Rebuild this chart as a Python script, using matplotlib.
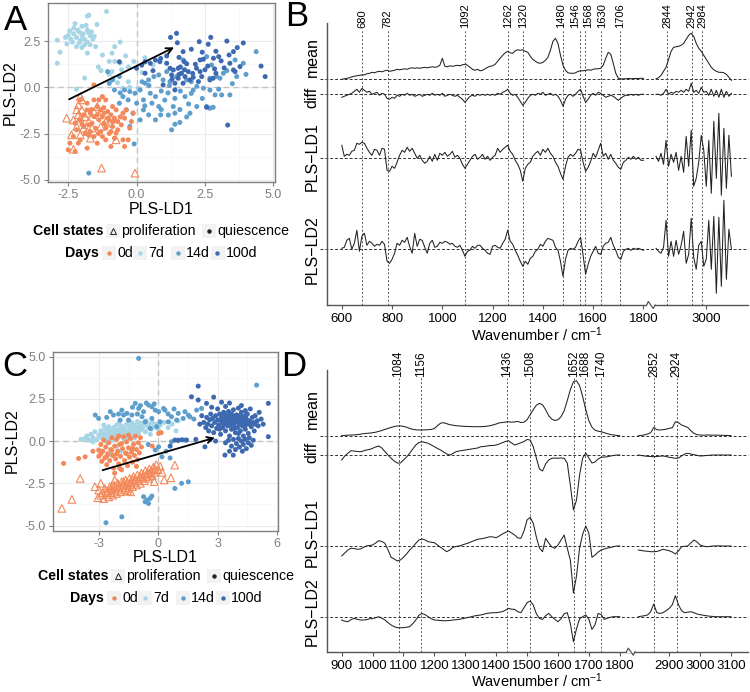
import numpy as np
import matplotlib
matplotlib.use("Agg")
import matplotlib.pyplot as plt
from matplotlib.lines import Line2D
from matplotlib.patches import Rectangle

plt.rcParams['font.family'] = ['Liberation Sans', 'DejaVu Sans']
plt.rcParams['mathtext.default'] = 'regular'

W, H = 750, 692

# ---------------- colours ----------------
c_0d = '#f3895a'
c_7d = '#a7d5e6'
c_14d = '#5e9ecd'
c_100d = '#3d69b1'

# ---------------- panel A scatter (PLS-LD1, PLS-LD2) ----------------
a_7d = [(-2.3,2.9),(-2.2,2.7),(-2.1,3.0),(-2.0,2.8),(-1.9,2.6),(-2.4,2.6),(-2.5,2.8),(-2.3,3.2),(-2.0,3.3),
        (-1.8,3.1),(-1.7,2.8),(-1.6,2.6),(-1.9,2.3),(-2.1,2.4),(-2.2,2.2),(-1.75,2.95),(-1.85,3.35),(-2.15,3.1),
        (-2.45,3.05),(-1.65,3.0),(-1.55,2.75),(-1.95,2.9),(-2.05,2.55),(-2.35,2.45),(-1.8,2.45),(-1.7,2.3),
        (-2.6,2.7),(-2.55,2.35),(-2.25,3.45),(-1.45,3.4),(-1.8,3.85),(-1.75,3.9),(-1.1,4.1),(-2.0,2.15),(-1.5,2.2),
        (-2.9,2.55),(-2.8,1.9),(-2.9,1.3),(-1.8,1.85),(-1.25,1.75),(-0.9,1.85),(-0.8,2.2),(-0.6,2.45),(-1.0,1.4),
        (-0.8,1.4),(-0.6,1.3),(-0.9,0.85),(-0.55,0.95),(-0.3,1.1),(-1.0,0.7),(-1.9,0.5),(-2.2,-0.1),(-0.85,0.5),
        (-0.7,0.25),(-0.5,-0.05),(-0.25,0.0),(0.05,-0.05),(-0.3,0.3),(-1.3,0.9),(-0.1,1.4),(0.3,1.6),(0.2,0.8),
        (-0.4,1.7),(-1.4,1.1),(0.6,1.2)]
a_14d = [(1.03,-0.69),(1.40,-0.60),(1.77,-0.5),(1.34,-1.04),(1.16,-1.5),(1.40,-1.4),(1.58,-1.2),(1.28,-2.3),
         (1.40,-2.0),(1.58,-1.9),(1.83,-1.6),(1.95,-1.4),(2.07,-0.15),(2.0,-0.33),(2.2,-1.04),(2.56,-1.04),
         (2.68,-1.13),(2.8,-1.08),(2.44,-0.05),(2.68,-0.15),(3.11,-0.41),(3.41,-0.41),(2.87,-0.41),(3.05,0.49),
         (3.17,0.76),(3.66,0.58),(3.9,1.3),(3.6,1.48),(2.56,1.66),(2.74,1.21),(1.7,1.48),(1.1,0.85),(0.97,0.4),
         (1.22,0.31),(1.46,0.58),(1.83,0.4),(2.0,0.31),(2.68,0.49),(2.93,0.58),(4.37,1.93),
         (-1.06,0.85),(-0.88,0.4),(-0.63,0.58),(-0.44,-0.14),(-0.25,-0.23),(-0.06,-0.32),(0.13,-0.14),(0.31,0.22),
         (0.44,0.4),(0.63,0.58),(0.81,0.67),(0.5,-0.32),(0.69,-0.5),(0.25,-0.68),(0.0,-0.86),(-0.31,-0.68),
         (-0.5,-0.5),(-0.63,-0.86),(-0.38,-1.22),(-0.13,-1.4),(0.25,-1.22),(0.44,-1.49),(0.69,-1.76),(0.88,-1.49),
         (0.81,-1.04),(0.56,-0.86),(0.13,-1.76),(-0.25,-2.12),(-0.09,-3.06),(-1.75,-4.64),(-0.81,-0.14),(-1.0,0.22),
         (0.2,0.3),(0.45,0.1),(0.9,-0.2),(1.15,-0.3),(1.6,-0.2),(1.9,-0.9),(2.4,-0.6),(3.0,-0.1),(3.5,0.2),
         (2.2,0.05),(0.3,-1.0),(0.9,-1.2),(-0.6,-0.3),(1.2,0.1),(3.3,0.9),(4.0,0.7)]
a_100d = [(0.0,1.03),(0.19,1.2),(0.31,1.38),(0.5,1.3),(0.69,1.47),(0.88,1.56),(-0.63,1.38),(0.31,0.76),
          (1.24,2.7),(1.46,2.92),(1.49,2.41),(1.7,1.93),(2.0,2.06),(2.29,2.47),(2.62,2.33),(2.71,2.7),(3.68,2.15),
          (3.54,1.93),(3.38,1.75),(3.09,1.43),(3.0,1.66),(2.81,1.57),(2.44,1.52),(2.32,1.48),(1.55,1.62),
          (1.74,1.39),(1.83,1.27),(1.22,1.03),(1.34,0.94),(1.52,1.03),(1.64,0.76),(1.89,0.85),(2.19,1.03),
          (2.32,0.85),(2.38,0.58),(2.07,0.54),(1.95,0.4),(1.77,0.58),(1.52,0.49),(1.40,0.22),(1.28,0.67),
          (2.68,0.4),(2.9,0.76),(3.54,0.94),(3.6,0.85),(4.55,1.15),(4.7,0.58),(2.56,-1.08),(3.33,-2.04),
          (1.40,-0.14),(0.97,0.13),(0.85,1.39),(1.1,1.3),(3.41,1.3),(3.78,1.12),(1.7,0.22),(2.26,0.31),(2.8,0.49),
          (1.6,1.1),(1.75,0.95),(2.05,0.75),(2.15,1.25),(2.5,0.95),(2.6,1.15),(2.85,1.0),(3.2,1.05),(1.3,0.45),
          (1.55,0.7),(2.4,1.9),(3.3,2.5),(1.1,1.7),(0.6,0.9),(3.9,2.4),(2.9,1.95)]
a_0d_q = [(-1.56,0.13),(-1.25,-0.5),(-1.13,-0.68),(-1.44,-1.04),(-1.31,-1.22),(-1.19,-1.4),(-1.06,-1.31),
          (-0.94,-1.49),(-0.81,-1.67),(-0.69,-1.85),(-1.0,-1.76),(-1.19,-1.94),(-1.38,-1.76),(-1.56,-1.58),
          (-1.69,-1.4),(-1.81,-1.22),(-1.94,-1.49),(-2.06,-1.76),(-1.75,-2.03),(-1.5,-2.21),(-1.31,-2.39),
          (-1.13,-2.21),(-0.88,-2.12),(-0.69,-2.3),(-0.56,-2.03),(-0.44,-1.67),(-0.5,-1.4),(-0.38,-1.22),
          (-0.75,-1.22),(-0.88,-1.04),(-2.19,-2.3),(-2.31,-2.66),(-2.44,-3.02),(-2.5,-3.38),(-2.13,-3.02),
          (-1.81,-3.29),(-1.44,-3.02),(-1.13,-2.84),(-0.81,-2.75),(-0.5,-2.84),(-0.94,-3.2),(-1.56,-2.66),
          (-1.88,-2.48),(-2.06,-2.84),(-2.25,-3.47),(-0.13,-1.4),(-0.19,-1.85),(-0.25,-2.21),(-0.31,-2.84),
          (-1.63,-1.94),(-1.25,-1.58),(-1.06,-1.67),(-1.44,-1.49),(-0.94,-2.39),(-1.69,-2.39),(-1.94,-2.12),
          (-2.25,-1.94),(-1.56,-0.68),(-1.81,-0.86),(-1.38,-0.68),(-2.06,-0.68),(-0.44,-3.2),(-1.25,-2.66),
          (-0.75,-2.48),(-1.2,-1.1),(-1.0,-2.5),(-1.65,-1.2),(-0.6,-1.6),(-2.0,-2.0),(-1.4,-2.5),(-0.85,-1.85),
          (-1.75,-2.6)]
a_0d_p = [(-2.06,-0.5),(-2.0,-0.68),(-2.13,-0.95),(-2.0,-1.22),(-2.19,-1.22),(-2.56,-1.67),(-2.31,-1.76),
          (-2.06,-1.67),(-1.88,-1.58),(-1.75,-1.85),(-2.19,-2.12),(-2.38,-2.57),(-2.31,-3.35),(-1.94,-2.21),
          (-1.81,-2.39),(-1.63,-2.21),(-1.44,-1.04),(-1.38,-1.49),(-1.56,-1.31),(-1.13,-1.85),(-1.31,-2.12),
          (-1.0,-1.94),(-0.75,-2.84),(-1.69,-2.75),(-2.06,-2.57),(-1.28,-4.37),(-0.06,-4.64),(-1.81,-1.4),
          (-2.13,-1.49)]
a_arrow = [(-2.47, -0.65), (1.37, 2.16)]

# ---------------- panel C scatter ----------------
c_7d_pts = [(-3.9,0.1),(-3.7,0.15),(-3.6,0.3),(-3.5,0.05),(-3.4,0.4),(-3.3,0.2),(-3.2,0.55),(-3.1,0.1),(-3.0,0.35),
            (-2.9,0.6),(-2.85,0.2),(-2.8,0.45),(-2.7,0.75),(-2.65,0.3),(-2.6,0.55),(-2.55,0.1),(-2.5,0.85),
            (-2.45,0.4),(-2.4,0.65),(-2.35,0.25),(-2.3,0.5),(-2.25,0.8),(-2.2,0.35),(-2.15,0.6),(-2.1,0.95),
            (-2.05,0.2),(-2.0,0.45),(-1.95,0.7),(-1.9,0.3),(-1.85,0.9),(-1.8,0.55),(-1.75,0.15),(-1.7,0.75),
            (-1.65,0.4),(-1.6,1.0),(-1.55,0.6),(-1.5,0.3),(-1.45,0.85),(-1.4,0.5),(-1.35,1.1),(-1.3,0.7),
            (-1.25,0.35),(-1.2,0.95),(-1.15,0.6),(-1.1,0.8),(-1.05,1.15),(-1.0,0.45),(-0.95,0.9),(-0.9,0.65),
            (-0.85,1.05),(-0.8,0.75),(-0.7,0.95),(-0.65,0.55),(-0.6,1.2),(-0.5,0.8),(-0.45,1.0),(-0.35,0.7),
            (-0.3,1.1),(-0.2,0.85),(-0.1,1.0),(0.0,0.7),(0.1,0.95),(0.3,1.1),(0.5,0.8),(0.7,1.0),(0.9,0.6),
            (1.0,1.2),(-2.75,0.95),(-2.0,1.05),(-3.3,-0.05),(-2.6,-0.05),(-1.6,0.15),(-2.3,0.05),(-1.2,0.2),
            (-0.4,0.4),(-1.9,-0.6),(-2.4,-0.8),(-2.1,-0.3),(-2.9,0.4),(-2.45,0.55),(-2.05,0.65),(-1.7,0.5),
            (-1.35,0.8),(-1.0,0.8),(-2.6,0.7),(-1.8,0.35)]
c_14d_pts = [(-3.18,1.54),(-3.01,1.34),(-2.42,1.74),(-2.26,1.54),(-1.84,1.83),(-1.58,1.64),(-1.16,2.23),
             (-0.99,1.93),(-0.74,1.74),(-0.49,2.13),(-0.32,2.03),(-0.15,1.83),(0.02,1.74),(0.27,1.93),
             (-0.32,1.34),(-0.66,1.14),(-0.82,1.44),(-1.5,1.24),(-1.92,1.24),(-1.33,1.54),(-1.75,1.54),
             (0.1,1.14),(-0.07,0.85),(-0.4,0.75),(0.34,1.83),(0.67,1.44),(1.01,1.64),(1.35,1.74),(1.6,1.44),
             (1.94,1.83),(2.19,1.93),(0.51,1.14),(0.93,1.24),(1.26,1.34),(1.52,1.54),(-0.9,2.1),(-0.6,2.25),
             (-0.2,2.2),(-1.3,2.0),(-2.0,1.6),(-2.6,1.4),(-1.05,1.6),(0.5,1.6),(0.8,1.9),(1.8,1.3),
             (-0.15,-0.53),(0.19,-0.93),(0.02,-0.34),(1.01,0.06),(1.35,0.06),(0.67,-0.04),(0.4,-0.6),
             (0.6,-1.0),(-0.5,-0.2),(-0.74,-3.29),(-0.57,-3.49),(-0.4,-3.39),(-0.49,-3.69),(-0.66,-3.59),
             (-0.32,-3.25),(0.84,-2.8),(1.18,-2.5),(1.52,-2.41),(-0.99,4.89),(-2.64,-4.83),(-1.84,-4.48),
             (4.97,3.31)]
c_100d_pts = [(2.3,1.1),(2.4,0.8),(2.45,1.4),(2.5,1.0),(2.55,0.6),(2.6,1.25),(2.65,1.6),(2.7,0.9),(2.75,1.35),
              (2.8,0.5),(2.85,1.1),(2.9,1.5),(2.95,0.75),(3.0,1.25),(3.0,1.9),(3.05,0.95),(3.1,1.6),(3.15,0.4),
              (3.2,1.15),(3.2,1.4),(3.25,0.8),(3.3,1.7),(3.3,1.0),(3.35,1.3),(3.4,0.6),(3.4,2.05),(3.45,1.5),
              (3.5,0.9),(3.5,1.2),(3.55,1.75),(3.6,0.3),(3.6,1.05),(3.65,1.4),(3.7,0.7),(3.7,1.6),(3.75,1.2),
              (3.8,0.95),(3.8,1.85),(3.85,1.35),(3.9,0.5),(3.9,1.1),(3.95,1.55),(4.0,0.8),(4.0,1.3),(4.05,1.95),
              (4.1,1.0),(4.1,1.5),(4.15,0.6),(4.2,1.25),(4.2,1.7),(4.25,0.9),(4.3,1.45),(4.3,0.3),(4.35,1.1),
              (4.4,1.8),(4.4,0.7),(4.45,1.3),(4.5,1.0),(4.5,1.6),(4.55,0.45),(4.6,1.2),(4.65,1.9),(4.7,0.85),
              (4.75,1.4),(4.8,1.1),(4.85,0.6),(4.9,1.5),(5.0,1.2),(5.05,0.9),(5.1,1.7),(5.2,1.3),(5.3,1.0),
              (5.56,2.23),(5.56,0.26),(3.4,-0.1),(3.55,0.05),(3.7,-0.3),(3.8,0.1),(3.9,-0.5),(3.95,-0.15),
              (4.05,0.15),(4.1,-0.35),(4.2,0.0),(4.25,-0.6),(4.3,-0.2),(4.4,0.1),(4.45,-0.45),(4.55,-0.1),
              (4.6,0.2),(4.7,-0.25),(4.8,0.05),(3.37,-0.83),(3.79,-0.83),(3.6,-0.6),(2.36,-0.34),(2.9,0.0),
              (2.6,0.1),(1.68,2.62),(2.02,2.43),(2.44,2.23),(2.02,3.25),(0.84,0.06),(1.0,0.04),(1.2,0.08),
              (1.43,0.06),(2.7,2.0),(2.2,1.5),(2.1,1.0),(1.9,0.1),(0.6,-0.3),(3.2,2.3),(3.6,2.25),(4.2,2.1),
              (2.8,2.6),(3.1,0.7),(3.35,1.6),(3.65,0.95),(3.95,1.25),(4.15,1.15),(4.35,0.85),(4.45,1.55),
              (4.05,0.45),(3.75,1.45),(3.45,1.1),(4.6,1.0),(4.9,1.0),(3.25,1.25),(3.85,0.75),(4.25,1.4),
              (3.55,1.45)]
c_0d_q = [(-4.78,-1.32),(-4.02,-1.03),(-3.69,-0.93),(-3.01,-0.53),(-3.0,-0.9),(-2.9,-0.2),(-2.85,-1.2),
          (-2.8,-0.6),(-2.75,0.05),(-2.7,-1.0),(-2.65,-0.35),(-2.6,-1.4),(-2.55,-0.75),(-2.5,-0.1),(-2.45,-1.15),
          (-2.4,-0.5),(-2.35,0.2),(-2.3,-0.85),(-2.25,-1.6),(-2.2,-0.3),(-2.15,-1.05),(-2.1,0.1),(-2.05,-0.6),
          (-2.0,-1.35),(-1.95,-0.2),(-1.9,-0.9),(-1.85,-1.7),(-1.8,-0.45),(-1.75,0.25),(-1.7,-1.15),(-1.65,-0.7),
          (-1.6,-0.05),(-1.55,-1.45),(-1.5,-0.4),(-1.45,-0.95),(-1.4,0.15),(-1.35,-0.65),(-1.3,-1.25),
          (-1.25,-0.2),(-1.2,-0.85),(-1.15,0.3),(-1.1,-0.5),(-1.05,-1.1),(-1.0,-0.1),(-0.95,-0.7),(-0.9,0.2),
          (-0.85,-0.35),(-2.2,-1.9),(-1.95,-1.6),(-2.6,-0.9),(-2.1,-0.75),(-1.85,-0.15),(-1.6,-0.75),
          (-2.35,-0.55),(-1.3,-0.45),(-2.9,-0.75),(-3.3,-0.6),(0.02,0.45),(0.15,0.5),(-0.3,-0.3),(-2.0,0.3),
          (-1.5,0.35),(-1.1,-1.5)]
c_0d_p = [(-3.05,-3.35),(-3.0,-2.9),(-2.9,-3.2),(-2.8,-3.05),(-2.75,-3.4),(-2.7,-2.8),(-2.6,-3.15),(-2.55,-2.95),
          (-2.5,-3.3),(-2.45,-2.7),(-2.4,-3.05),(-2.35,-2.85),(-2.3,-3.2),(-2.25,-2.6),(-2.2,-2.95),(-2.15,-2.75),
          (-2.1,-3.1),(-2.05,-2.5),(-2.0,-2.85),(-1.95,-2.65),(-1.9,-3.0),(-1.85,-2.4),(-1.8,-2.75),(-1.75,-2.55),
          (-1.7,-2.9),(-1.65,-2.3),(-1.6,-2.65),(-1.55,-2.45),(-1.5,-2.8),(-1.45,-2.2),(-1.4,-2.55),(-1.35,-2.35),
          (-1.3,-2.7),(-1.25,-2.1),(-1.2,-2.45),(-1.15,-2.25),(-1.1,-2.6),(-1.05,-2.0),(-1.0,-2.35),(-0.95,-2.15),
          (-0.9,-2.5),(-0.85,-1.9),(-0.8,-2.2),(-0.75,-2.0),(-0.7,-2.35),(-0.65,-1.75),(-0.6,-2.1),(-0.55,-1.85),
          (-0.5,-2.2),(-0.45,-1.65),(-0.4,-1.95),(-0.35,-1.75),(-0.3,-2.05),(-0.25,-1.55),(-0.2,-1.85),
          (-0.15,-1.65),(-0.1,-1.4),(0.0,-1.7),(0.1,-1.5),(0.2,-1.85),(-4.87,-3.98),(-4.36,-3.45),(-3.94,-2.21),
          (0.84,-1.42),(0.64,-2.17),(-3.2,-2.7),(-2.9,-2.5),(0.3,-2.3),(-0.2,-2.4),(-2.2,-2.3),(-1.4,-3.0),
          (-2.65,-2.95),(-2.2,-2.65),(-1.75,-2.4),(-1.3,-2.25),(-0.9,-2.1),(-0.5,-1.9),(-2.4,-2.8),(-1.55,-2.95)]
c_arrow = [(-2.81, -1.72), (2.86, 0.2)]

# ---------------- panel B spectra ----------------
wn_b_lo = np.arange(600, 1801, 10)
wn_hi = np.arange(2800, 3101, 10)
b_peaks = [680, 782, 1092, 1262, 1320, 1480, 1546, 1568, 1630, 1706, 2844, 2942, 2984]
b_label_shift = {1480: -6, 1546: -16, 1568: 12, 1630: 6}
b_mean_lo = [0, 0.5, 1, 1.5, 2.5, 3, 3.5, 4, 4.3, 4.5,
             5.5, 6, 7, 6.5, 7.5, 8, 7.5, 8.5, 9, 8,
             8.5, 9, 10, 9.5, 10, 10.5, 10, 11, 11.5, 11,
             11.5, 11, 11.5, 12, 11.5, 12, 12.5, 12, 12.5, 14,
             21, 13, 12.5, 13.5, 13, 13.5, 14, 13.5, 14.5, 15,
             14, 12, 10, 9, 10, 8.5, 9, 10.5, 12, 13,
             13.5, 15, 18, 21, 24, 26.5, 28, 26.5, 26, 28.5,
             29.5, 29, 29.5, 28, 27, 23, 20, 18, 16.5, 16,
             17, 19, 22, 29, 38, 41, 36, 24, 14, 9,
             6.5, 6, 6, 6.5, 8, 8.5, 8.5, 9, 9.5, 9,
             10, 10.5, 10.5, 11, 14, 21, 27, 25, 16, 6,
             1, 0.3, 0.5, 0.5, 0.8, 0.6, 0.7, 0.8, 0.8, 1,
             1]
b_mean_hi = [0.5, 1.5, 4, 8, 12, 20, 28, 32, 32.5, 33, 34, 36, 40, 44, 46, 43, 36, 31, 28, 24,
             20, 16, 12, 9.5, 8, 7, 7, 6.5, 5, 2, -1]
b_diff_lo = [-3, -2, -1, 0, 1, 3, 5, 2, 6, 4,
             2, 3, 0, 1, 2, -1, 1, 0, -4, -5,
             -3, -4, -1, -2, 0, -1, 1, -1, 0, -2,
             -1, 0, -2, -1, 0, -1, 1, -1, 0, -1,
             1, -2, -1, 0, -1, -2, -1, -3, -5, -8,
             -5, -2, -1, -2, 0, -1, 0, -1, 0, -1,
             0, -1, 1, 0, 2, 3, 5, 1, -1, 0,
             -3, -7, -11, -8, -4, -1, 0, -1, 1, 0,
             2, -1, 0, 1, -1, 0, -2, -6, -12, -5,
             -1, 0, -2, 0, 3, 5, -2, -8, -5, -1,
             1, -1, 2, 1, -1, -3, -2, -1, -2, -4,
             -6, -4, -2, -1, -1, 0, -1, 0, -1, 0,
             0]
b_diff_hi = [0, 0, -1, 1, 5, 0, 2, 1, 3, 2, 4, 2, 5, 3, 11, 2, 4, 1, 7, 2,
             3, -1, 5, -2, 4, -3, 5, -3, 3, -2, 1]
b_ld1_lo = [13, 2, 4, 3, 7, 8, 15, 14, 16, 15,
            10, 6, 3, 9, 8, 3, 10, 9, -12, -13,
            -8, -10, -4, 3, 8, 6, 11, 7, 10, 5,
            0, 3, -2, -5, -3, 2, -3, 4, -2, 5,
            3, 6, 2, 4, 7, 1, 3, 0, -6, -10,
            -6, -2, 2, 4, -1, 1, 4, -1, 2, -2,
            1, 3, 10, 6, 9, 11, 13, 7, 4, -2,
            -6, -12, -23, -10, -6, -4, 2, 5, 7, 3,
            9, 6, 10, 5, 2, -4, -8, -15, -21, -8,
            1, 4, 2, 5, 9, 8, -4, -13, -9, -3,
            5, 1, 8, 15, 2, 5, -1, 4, -2, -5,
            -9, -11, -4, -2, 1, -1, 2, -1, 1, -2,
            -2]
b_ld1_hi = [2, -3, 5, -6, 18, -8, 4, -4, 6, -12, 2, -14, 22, -8, 28, -28, -20, -4, 23,
            8, -28, 18, -35, 37, -20, 45, -37, 30, -30, 23, -18]
b_ld2_lo = [1, 2, 9, 11, 0, 6, 19, -2, 13, 16,
            4, 8, 6, 3, 5, 4, 8, 5, -12, -14,
            -10, -4, 6, 4, 9, 7, 12, 3, -4, 16,
            3, 10, 9, 2, -4, 6, 9, 2, 3, 7,
            6, 8, 7, 5, 6, 3, 2, 4, -1, -7,
            -2, -1, 3, 1, 4, 4, 1, -1, -4, -5,
            3, 4, 2, 1, 6, 10, 19, 8, 5, -1,
            -6, -12, -17, -12, -15, -9, -7, -2, 0, 5,
            3, 8, 11, 10, 9, 2, -1, -12, -27, -10,
            -1, 1, 0, 2, 8, 12, -6, -25, -15, -7,
            -2, 3, -4, -5, 3, 6, 7, 12, 4, -1,
            -8, -10, -2, 0, 1, -1, 1, 0, 1, 0,
            -1]
b_ld2_hi = [1, -2, -4, 2, 29, -7, 8, -7, 9, -5, 4, 18, -14, -5, 31, -8, -20, 4, 8, -17,
            -10, 29, -20, 33, -44, 32, -37, 49, -30, 20, 0]

# ---------------- panel D spectra ----------------
wn_d_lo = np.arange(900, 1801, 10)
d_peaks = [1084, 1156, 1436, 1508, 1652, 1688, 1740, 2852, 2924]
d_mean_lo = [0, 0.3, 0.5, 0.7, 0.8, 1, 1.5, 2, 2.3, 2.6,
             3, 3.5, 4.3, 5.2, 6.3, 7.3, 8.3, 9.2, 9.7, 9.8,
             9.3, 8.5, 7.3, 6.4, 5.9, 5.7, 5.7, 5.8, 6, 6.3,
             7.2, 10, 12.5, 13, 12, 11, 10.5, 10, 9.7, 9.5,
             9.3, 9.2, 9.1, 9, 9, 9, 9.2, 9.5, 10, 10.8,
             11.7, 12.8, 13.2, 13.6, 14, 13.5, 13.8, 14.3, 13.2, 13.5,
             16, 21, 26, 30.5, 32.3, 31, 26, 20, 16.5, 15.2,
             16, 19, 25, 35, 46, 54, 55, 50, 39, 26,
             15, 8.5, 5.5, 4.5, 4, 3, 2, 1.2, 0.7, 0.3,
             0]
d_mean_hi = [0, 0.3, 0.8, 1.7, 3, 8.3, 6, 5.7, 6, 6.5, 7.3, 8, 14, 13, 10.7, 9.5, 8.3, 5, 2.3, 1,
             0.7, 0.5, 0.6, 0.7, 0.5, 0.6, 0.5, 0.4, 0.3, 0.2, 0]
d_diff_lo = [-5, -1, 1.7, 4.3, 4, 3.5, 3.3, 4, 5, 5.5,
             6.7, 8, 9, 7, 3.3, 0, -3.3, -6, -8, -8,
             -5, -2, 1.7, 6, 10, 12.5, 13.3, 12.5, 11.7, 10,
             8.3, 6.5, 5, 3, 1, 0, 1.5, 3.3, 4, 4.5,
             5, 5.5, 6, 6.5, 7, 8.3, 8.5, 9, 9.5, 9.5,
             10, 11, 12.3, 13.5, 14.3, 12, 10, 11, 12.3, 13.5,
             15.5, 15, 8.3, -3, -14, -16, -9, -5, -3.3, -3,
             -3.3, -3, -3.3, -8, -30, -55, -45, -20, -3, 2,
             -3, -8, -7, -4, -2.3, -2, -1.7, -1, -0.5, 0,
             0]
d_diff_hi = [0, -0.5, -1, -1.3, -1.5, -1.7, -1.5, -1.2, -1, -1.5, -2.3, -2.8, -3.3, -3, -1, 1, 1.7, 1,
             0.3, -0.3, -1, -0.8, -0.5, -0.3, 0, 0, 0, 0, 0, 0, 0]
d_ld1_lo = [-10, -7, -4, -2.3, -2.5, -3.3, -3, -1.5, 0, 0.5,
            1, 3, 5.3, 4.5, 2.7, -4, -11.3, -13, -15, -14,
            -11.3, -8, -4, -1, 2.7, 6, 7, 6, 4.3, 3.8,
            3.3, 1, -1.3, -3.5, -5.7, -4, -1.3, -0.5, 0, 1,
            2, 3, 4.3, 5.5, 6.7, 7.2, 7.7, 8.5, 9.3, 9,
            8.3, 10, 12, 13.5, 15, 13, 11, 8, 7.7, 15,
            26, 28.7, 22.7, 9, -2, -5.7, 7.7, 3, -1, -2.3,
            1, 6, 11, -2, -14, -47, -30, -2, 12, 20,
            12.7, -11.3, -9, -6, -4, -3, -2, -1.5, -0.7, 0,
            0]
d_ld1_hi = [-4, -4.5, -5, -5.3, -5.7, -5.7, -5.5, -4.5, -3.3, -4, -4.7, -6, -8, -5, -0.7, -0.3, 0, 3,
            6, 4, 1, 0, -0.7, -0.5, 0, 0, 0.2, 0, 0, 0, 0]
d_ld2_lo = [-3.3, -4.5, -5, -3, -1.7, -2.5, -3.3, -3.3, -3, -2,
            -2, -1, 0, -1.5, -3.3, -6, -8.3, -10, -11, -11,
            -11, -10.5, -10, -7, -3.3, 1.5, 3.3, 2, 0, -2,
            -3.3, -3.5, -3.8, -4, -4, -3.7, -3.3, -3, -2.7, -2,
            -1.3, -0.7, 0, 0.8, 1.3, 1.7, 2.5, 3.3, 3.7, 4,
            4, 4.5, 5, 6.5, 8.3, 7.5, 7.3, 5, 4, 9,
            14, 15.7, 11.7, 3, -1.7, -2.7, 1, 3.3, 0, -2.7,
            -5, -2, 3, 4, -6.7, -25, -12, -2, 0, 1.7,
            -2.7, -12.7, -8, 3.3, 2, -2.7, -1.5, -0.5, 0, 0,
            0]
d_ld2_hi = [0, 0.5, 1, 1.7, 5, 12.7, 4, 3.3, 4, 6, 8.3, 12, 21, 12, 6, 4, 4.5, 5, 4, 2.7,
            2, 1.5, 1, 0.5, 0.3, 0, 0, 0, 0, 0, 0]

fig = plt.figure(figsize=(W / 100, H / 100), dpi=100)


def pax(x0, y0, x1, y1):
    return fig.add_axes([x0 / W, 1 - y1 / H, (x1 - x0) / W, (y1 - y0) / H])


def ftext(px, py, s, **kw):
    return fig.text(px / W, 1 - py / H, s, **kw)


def scatter_panel(ax, xlim, ylim, xticks, yticks, xtl, ytl):
    ax.set_xlim(*xlim)
    ax.set_ylim(*ylim)
    ax.set_xticks(xticks)
    ax.set_xticklabels(xtl)
    ax.set_yticks(yticks)
    ax.set_yticklabels(ytl)
    mx = [(xticks[i] + xticks[i + 1]) / 2 for i in range(len(xticks) - 1)]
    my = [(yticks[i] + yticks[i + 1]) / 2 for i in range(len(yticks) - 1)]
    ax.set_xticks(mx, minor=True)
    ax.set_yticks(my, minor=True)
    ax.grid(True, which='major', color='#ebebeb', lw=0.8, zorder=0)
    ax.grid(True, which='minor', color='#f5f5f5', lw=0.5, zorder=0)
    ax.set_axisbelow(True)
    ax.tick_params(which='major', length=3, width=0.8, color='#7f7f7f', labelcolor='#7f7f7f',
                   labelsize=9, pad=2)
    ax.tick_params(which='minor', length=0)
    for s in ax.spines.values():
        s.set_color('#808080')
        s.set_linewidth(1.0)
    ax.axhline(0, color='#c4c4c4', lw=1.0, ls=(0, (4, 3)), zorder=1)
    ax.axvline(0, color='#c4c4c4', lw=1.0, ls=(0, (4, 3)), zorder=1)


def draw_groups(ax, g7, g14, g100, gq, gp, arrow):
    for pts, col in [(g7, c_7d), (g14, c_14d), (g100, c_100d), (gq, c_0d)]:
        p = np.array(pts)
        ax.scatter(p[:, 0], p[:, 1], s=13, color=col, edgecolors='none', zorder=3)
    p = np.array(gp)
    ax.scatter(p[:, 0], p[:, 1], s=30, marker='^', facecolors='none', edgecolors=c_0d,
               linewidths=0.8, zorder=4)
    ax.annotate('', xy=arrow[1], xytext=arrow[0],
                arrowprops=dict(arrowstyle='->', lw=1.3, color='black', mutation_scale=11,
                                shrinkA=0, shrinkB=0), zorder=5)


legend_rows = [(230.7, 33, 'Cell states', [(113, 'tri', '#222222', 'proliferation'),
                                            (209, 'dot', '#222222', 'quiescence')]),
               (253, 65, 'Days', [(109, 'dot', c_0d, '0d'), (140, 'dot', c_7d, '7d'),
                                  (177.5, 'dot', c_14d, '14d'), (217.5, 'dot', c_100d, '100d')])]


def draw_legend(dx, dy):
    for ry, tx, title, keys in legend_rows:
        y = ry + dy
        ftext(tx + dx, y, title, fontsize=10.2, fontweight='bold', ha='left', va='center')
        for kx, kind, col, lab in keys:
            cx = kx + dx
            fig.add_artist(Rectangle(((cx - 7) / W, 1 - (y + 7) / H), 14 / W, 14 / H,
                                     transform=fig.transFigure, fc='#f2f2f2', ec='none'))
            if kind == 'tri':
                fig.add_artist(Line2D([cx / W], [1 - y / H], marker='^', ms=4.5, mfc='none', mec=col,
                                      mew=0.7, transform=fig.transFigure))
            else:
                fig.add_artist(Line2D([cx / W], [1 - y / H], marker='o', ms=3.2, mfc=col, mec='none',
                                      transform=fig.transFigure))
            ftext(cx + 8.5, y, lab, fontsize=10.2, ha='left', va='center')


# ---------------- Panel A ----------------
axA = pax(48, 3, 275, 182)
scatter_panel(axA, (-3.24, 5.06), (-5.12, 4.56), [-2.5, 0, 2.5, 5.0], [-5.0, -2.5, 0.0, 2.5],
              ['-2.5', '0.0', '2.5', '5.0'], ['-5.0', '-2.5', '0.0', '2.5'])
draw_groups(axA, a_7d, a_14d, a_100d, a_0d_q, a_0d_p, a_arrow)
ftext(161.5, 210, 'PLS-LD1', fontsize=11.5, ha='center', va='center')
ftext(10, 92.5, 'PLS-LD2', fontsize=11.5, ha='center', va='center', rotation=90)
draw_legend(0, 0)

# ---------------- Panel C ----------------
axC = pax(52.7, 352.3, 278, 530.7)
scatter_panel(axC, (-5.33, 6.05), (-5.3, 5.25), [-3, 0, 3, 6], [-5.0, -2.5, 0.0, 2.5, 5.0],
              ['-3', '0', '3', '6'], ['-5.0', '-2.5', '0.0', '2.5', '5.0'])
draw_groups(axC, c_7d_pts, c_14d_pts, c_100d_pts, c_0d_q, c_0d_p, c_arrow)
ftext(165, 557, 'PLS-LD1', fontsize=11.5, ha='center', va='center')
ftext(12, 441, 'PLS-LD2', fontsize=11.5, ha='center', va='center', rotation=90)
draw_legend(5, 345)


# ---------------- spectra panels ----------------
def break_scale(g):
    def fwd(x):
        x = np.asarray(x, dtype=float)
        return np.where(x <= 1800, x, np.where(x >= 2800, x - 2800 + g,
                                                1800 + (x - 1800) * (g - 1800) / 1000.0))

    def inv(t):
        t = np.asarray(t, dtype=float)
        return np.where(t <= 1800, t, np.where(t >= g, t - g + 2800,
                                                1800 + (t - 1800) * 1000.0 / (g - 1800)))
    return fwd, inv


def spectra_panel(ax, g, xlim, height, wn_lo, traces, bases, peaks, ticks, line_top, label_y, shift,
                  label_size):
    ax.set_xscale('function', functions=break_scale(g))
    ax.set_xlim(*xlim)
    ax.set_ylim(0, height)
    for (lo, hi), b in zip(traces, bases):
        ax.axhline(b, xmin=-0.015, xmax=1.0, color='#333333', lw=0.7, ls=(0, (3, 2)), clip_on=False,
                   zorder=1)
        ax.plot(wn_lo, np.array(lo) + b, color='#222222', lw=0.75, zorder=3)
        ax.plot(wn_hi, np.array(hi) + b, color='#222222', lw=0.75, zorder=3)
    for p in peaks:
        ax.axvline(p, ymin=0, ymax=line_top / height, color='#555555', lw=0.7, ls=(0, (2, 2)), zorder=2)
        ax.text(p + shift.get(p, 0), label_y, str(p), rotation=90, ha='center', va='bottom',
                fontsize=label_size, clip_on=False)
    for s in ['top', 'right']:
        ax.spines[s].set_visible(False)
    for s in ['left', 'bottom']:
        ax.spines[s].set_color('#555555')
        ax.spines[s].set_linewidth(1.0)
    ax.set_yticks([])
    ax.set_xticks(ticks)
    ax.set_xticklabels([str(t) for t in ticks])
    ax.xaxis.set_minor_locator(matplotlib.ticker.NullLocator())
    ax.tick_params(axis='x', length=3, width=0.8, color='#555555', labelsize=9.5, pad=3)


axB = pax(326.7, 23, 748, 305)
spectra_panel(axB, 1850, (540, 3166), 282, wn_b_lo,
              [(b_mean_lo, b_mean_hi), (b_diff_lo, b_diff_hi), (b_ld1_lo, b_ld1_hi), (b_ld2_lo, b_ld2_hi)],
              [225.7, 210.7, 146.7, 55.7], b_peaks, [600, 800, 1000, 1200, 1400, 1600, 1800, 3000],
              275, 277, b_label_shift, 8)
axD = pax(326.7, 370, 748, 651.7)
spectra_panel(axD, 1860, (851.5, 3155), 281.7, wn_d_lo,
              [(d_mean_lo, d_mean_hi), (d_diff_lo, d_diff_hi), (d_ld1_lo, d_ld1_hi), (d_ld2_lo, d_ld2_hi)],
              [216, 196.7, 105.7, 35], d_peaks,
              [900, 1000, 1100, 1200, 1300, 1400, 1500, 1600, 1700, 1800, 2900, 3000, 3100],
              273.7, 275, {}, 8.5)

# axis break marks
for zx, zy in [([646.7, 648.3, 653.3, 655], [305, 301.5, 308.5, 305]),
               ([626.5, 628.3, 633.3, 635], [651.7, 648.2, 655.2, 651.7])]:
    fig.add_artist(Rectangle((zx[0] / W, 1 - (zy[0] + 1.5) / H), (zx[-1] - zx[0]) / W, 3 / H,
                             transform=fig.transFigure, fc='white', ec='none'))
    fig.add_artist(Line2D(np.array(zx) / W, 1 - np.array(zy) / H, color='#555555', lw=0.9,
                          transform=fig.transFigure))

# row labels of spectra
for py, s in [(57, 'mean'), (97, 'diff'), (157, 'PLS\u2212LD1'), (250, 'PLS\u2212LD2'),
              (409, 'mean'), (452, 'diff'), (533, 'PLS\u2212LD1'), (612, 'PLS\u2212LD2')]:
    ftext(312, py, s, fontsize=11.5, rotation=90, ha='center', va='center')

ftext(537, 335, 'Wavenumber / cm$^{-1}$', fontsize=10.5, ha='center', va='center')
ftext(537, 681, 'Wavenumber / cm$^{-1}$', fontsize=10.5, ha='center', va='center')

# panel letters
for px, py, s in [(16, 20, 'A'), (297, 17, 'B'), (15, 366, 'C'), (294, 366, 'D')]:
    ftext(px, py, s, fontsize=25, ha='center', va='center')

fig.savefig('out.png', dpi=100)
